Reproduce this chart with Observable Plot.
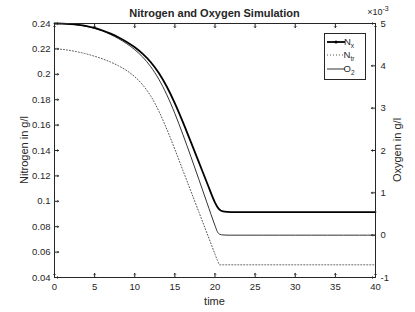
<!DOCTYPE html>
<html><head><meta charset="utf-8">
<script src="https://cdn.jsdelivr.net/npm/d3@7"></script>
<script src="https://cdn.jsdelivr.net/npm/@observablehq/plot@0.6"></script>
<style>body{margin:0;background:#fff;}</style>
</head><body><div id="chart"></div>
<script>
// time shared by all series
const time = [0,1,2,3,4,5,6,7,8,9,10,11,12,13,14,15,16,17,18,19,20,20.3,20.6,21,21.5,22,24,26,28,30,32,34,36,38,40];
// N_x in g/l (left axis)
const nX  = [0.2400,0.2399,0.2396,0.2390,0.2380,0.2365,0.2345,0.2320,0.2290,0.2255,0.2213,0.2161,0.2095,0.2010,0.1902,0.1772,0.1624,0.1466,0.1306,0.1146,0.0990,0.0955,0.0932,0.0920,0.0916,0.0915,0.0915,0.0915,0.0915,0.0915,0.0915,0.0915,0.0915,0.0915,0.0915];
// N_tr in g/l (left axis)
const nTr = [0.2200,0.2196,0.2187,0.2175,0.2160,0.2142,0.2121,0.2096,0.2066,0.2029,0.1981,0.1916,0.1828,0.1710,0.1567,0.1409,0.1244,0.1079,0.0914,0.0749,0.0584,0.0535,0.0500,0.0500,0.0500,0.0500,0.0500,0.0500,0.0500,0.0500,0.0500,0.0500,0.0500,0.0500,0.0500];
// O2 in 10^-3 g/l (right axis)
const o2  = [5.000,4.997,4.985,4.964,4.931,4.883,4.820,4.739,4.640,4.523,4.382,4.205,3.977,3.683,3.314,2.873,2.378,1.853,1.313,0.767,0.227,0.080,0.020,0.005,0,0,0,0,0,0,0,0,0,0,0];

const xTicks = [0,5,10,15,20,25,30,35,40];
const yTicks = [0.04,0.06,0.08,0.1,0.12,0.14,0.16,0.18,0.2,0.22,0.24];
const yTickLabels = ["0.04","0.06","0.08","0.1","0.12","0.14","0.16","0.18","0.2","0.22","0.24"];
const o2Ticks = [-1,0,1,2,3,4,5];

const yDom = [0.04, 0.24], oDom = [-1, 5];
const o2ToY = o => yDom[0] + (o - oDom[0]) / (oDom[1] - oDom[0]) * (yDom[1] - yDom[0]);
const yToO2 = y => oDom[0] + (y - yDom[0]) / (yDom[1] - yDom[0]) * (oDom[1] - oDom[0]);

const rows = time.map((t, i) => ({t, nx: nX[i], ntr: nTr[i], o2y: o2ToY(o2[i])}));
const ink = "#262626";
const font = "'Liberation Sans', Arial, sans-serif";

const plot = Plot.plot({
  width: 415, height: 312,
  marginLeft: 54, marginRight: 40, marginTop: 23, marginBottom: 35,
  style: {fontFamily: font, fontSize: "9.5px", color: ink, background: "#fff"},
  x: {domain: [0, 40]},
  y: {domain: yDom},
  marks: [
    Plot.axisX(xTicks, {anchor: "bottom", tickSize: 0, tickPadding: 6, label: null, tickFormat: d => String(d)}),
    Plot.axisY(yTicks, {anchor: "left", tickSize: 0, tickPadding: 4, label: null, tickFormat: (d, i) => yTickLabels[i]}),
    Plot.axisY(o2Ticks.map(o2ToY), {anchor: "right", tickSize: 0, tickPadding: 5, label: null, tickFormat: d => String(Math.round(yToO2(d)))}),
    Plot.vector(xTicks, {x: d => d, y: yDom[0], length: 4, rotate: 0, anchor: "start", stroke: ink, strokeWidth: 1}),
    Plot.vector(xTicks, {x: d => d, y: yDom[1], length: 4, rotate: 180, anchor: "start", stroke: ink, strokeWidth: 1}),
    Plot.vector(yTicks, {x: 0, y: d => d, length: 4, rotate: 90, anchor: "start", stroke: ink, strokeWidth: 1}),
    Plot.vector(o2Ticks.map(o2ToY), {x: 40, y: d => d, length: 4, rotate: -90, anchor: "start", stroke: ink, strokeWidth: 1}),
    Plot.line(rows, {x: "t", y: "ntr", stroke: "#555", strokeWidth: 1, strokeDasharray: "1,2", curve: "monotone-x"}),
    Plot.line(rows, {x: "t", y: "o2y", stroke: "#333", strokeWidth: 1, curve: "monotone-x"}),
    Plot.line(rows, {x: "t", y: "nx", stroke: "#000", strokeWidth: 1.8, curve: "monotone-x"}),
    Plot.frame({stroke: ink, strokeWidth: 1})
  ]
});
document.getElementById("chart").appendChild(plot);

const svg = d3.select(plot);
const g = svg.append("g").attr("font-family", font).attr("fill", ink);
g.append("text").attr("x", 214.5).attr("y", 17).attr("text-anchor", "middle")
  .attr("font-size", 11).attr("font-weight", "bold").text("Nitrogen and Oxygen Simulation");
g.append("text").attr("transform", "translate(28,150) rotate(-90)").attr("text-anchor", "middle")
  .attr("font-size", 11).text("Nitrogen in g/l");
g.append("text").attr("transform", "translate(401,150) rotate(-90)").attr("text-anchor", "middle")
  .attr("font-size", 11).text("Oxygen in g/l");
g.append("text").attr("x", 214.5).attr("y", 305).attr("text-anchor", "middle")
  .attr("font-size", 11).text("time");
const ex = g.append("text").attr("x", 378).attr("y", 15).attr("font-size", 9);
ex.append("tspan").text("×10");
ex.append("tspan").attr("font-size", 7).attr("dy", -4).text("-3");

// legend
const lg = g.append("g");
lg.append("rect").attr("x", 324.5).attr("y", 33.5).attr("width", 41).attr("height", 46)
  .attr("fill", "#fff").attr("stroke", ink).attr("stroke-width", 1);
const entries = [
  {base: "N", sub: "x", y: 42, dash: null, w: 1.8, dot: true, c: "#000"},
  {base: "N", sub: "tr", y: 55, dash: "1,2", w: 1, dot: false, c: "#555"},
  {base: "O", sub: "2", y: 69, dash: null, w: 1, dot: false, c: "#333"}
];
entries.forEach(e => {
  lg.append("line").attr("x1", 327).attr("x2", 345).attr("y1", e.y).attr("y2", e.y)
    .attr("stroke", e.c).attr("stroke-width", e.w)
    .attr("stroke-dasharray", e.dash);
  if (e.dot) lg.append("circle").attr("cx", 336).attr("cy", e.y).attr("r", 1.5).attr("fill", "#000");
  const t = lg.append("text").attr("x", 349).attr("y", e.y + 3).attr("font-size", 9.5);
  t.append("tspan").text(e.base);
  t.append("tspan").attr("font-size", 6.5).attr("dy", 3).text(e.sub);
});
</script>
</body></html>
